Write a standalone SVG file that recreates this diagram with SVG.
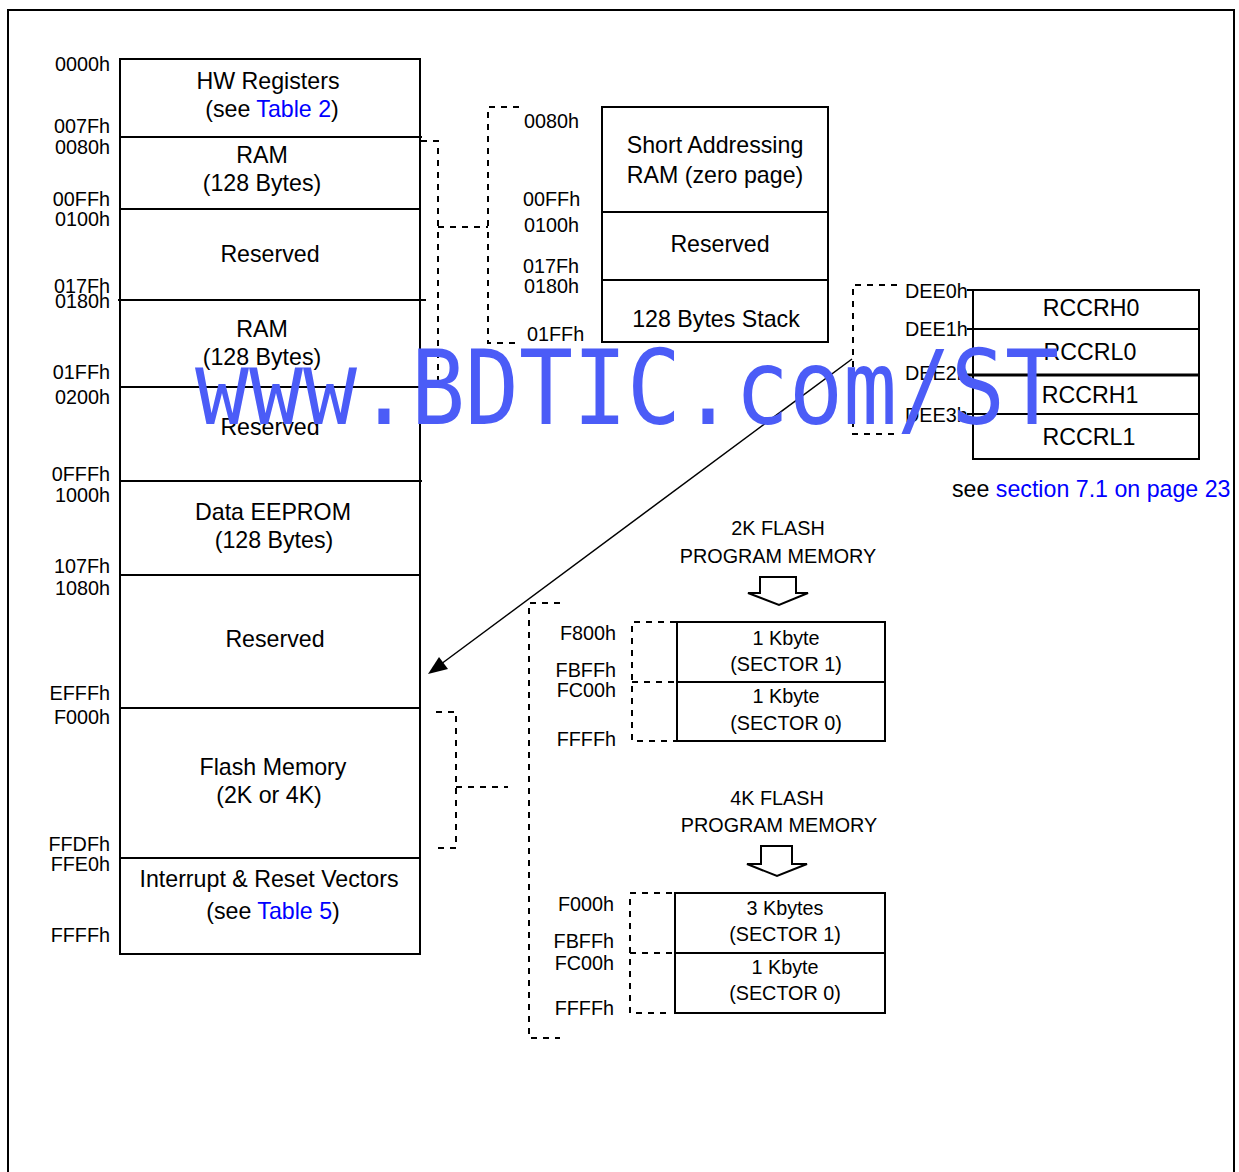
<svg xmlns="http://www.w3.org/2000/svg" width="1239" height="1172" viewBox="0 0 1239 1172">
<defs>
<style>
.t{font-family:"Liberation Sans",Arial,Helvetica,sans-serif;fill:#000}
.b{font-size:23.2px;text-anchor:middle}
.a{font-size:19.8px}
.ar{font-size:19.8px;text-anchor:end}
.s{font-size:19.8px;text-anchor:middle}
.lnk{fill:#0000ff}
.box{fill:#fff;stroke:#000;stroke-width:2}
.ln{stroke:#000;stroke-width:2;fill:none}
.d{stroke:#000;stroke-width:2;fill:none;stroke-dasharray:6 6}
.wm{font-family:"DejaVu Sans Mono",monospace;font-size:103px;fill:#4b5cf7}
</style>
</defs>
<rect width="1239" height="1172" fill="#fff"/>
<path class="ln" d="M8,1172 V10 H1234 V1172"/>

<g id="main-memory">
<rect class="box" x="120" y="59" width="300" height="895"/>
<path class="ln" d="M120,137 H422 M120,209 H420 M118,300 H426 M120,387 H420 M120,481 H422 M120,575 H420 M120,708 H420 M120,858 H420"/>
<text class="t b" x="268" y="89">HW Registers</text>
<text class="t b" x="272" y="117">(see <tspan class="lnk">Table 2</tspan>)</text>
<text class="t b" x="262" y="163">RAM</text>
<text class="t b" x="262" y="191">(128 Bytes)</text>
<text class="t b" x="270" y="262">Reserved</text>
<text class="t b" x="262" y="337">RAM</text>
<text class="t b" x="262" y="365">(128 Bytes)</text>
<text class="t b" x="270" y="435">Reserved</text>
<text class="t b" x="273" y="520">Data EEPROM</text>
<text class="t b" x="274" y="548">(128 Bytes)</text>
<text class="t b" x="275" y="647">Reserved</text>
<text class="t b" x="273" y="775">Flash Memory</text>
<text class="t b" x="269" y="803">(2K or 4K)</text>
<text class="t b" x="269" y="887">Interrupt &amp; Reset Vectors</text>
<text class="t b" x="273" y="919">(see <tspan class="lnk">Table 5</tspan>)</text>
</g>

<g id="main-addresses">
<text class="t ar" x="110" y="71">0000h</text>
<text class="t ar" x="110" y="133">007Fh</text>
<text class="t ar" x="110" y="154">0080h</text>
<text class="t ar" x="110" y="206">00FFh</text>
<text class="t ar" x="110" y="226">0100h</text>
<text class="t ar" x="110" y="293">017Fh</text>
<text class="t ar" x="110" y="308">0180h</text>
<text class="t ar" x="110" y="379">01FFh</text>
<text class="t ar" x="110" y="404">0200h</text>
<text class="t ar" x="110" y="481">0FFFh</text>
<text class="t ar" x="110" y="502">1000h</text>
<text class="t ar" x="110" y="573">107Fh</text>
<text class="t ar" x="110" y="595">1080h</text>
<text class="t ar" x="110" y="700">EFFFh</text>
<text class="t ar" x="110" y="724">F000h</text>
<text class="t ar" x="110" y="851">FFDFh</text>
<text class="t ar" x="110" y="871">FFE0h</text>
<text class="t ar" x="110" y="942">FFFFh</text>
</g>

<g id="zero-page">
<rect class="box" x="602" y="107" width="226" height="235"/>
<path class="ln" d="M602,212 H828 M602,280 H828"/>
<text class="t b" x="715" y="153">Short Addressing</text>
<text class="t b" x="715" y="183">RAM (zero page)</text>
<text class="t b" x="720" y="252">Reserved</text>
<text class="t b" x="716" y="327">128 Bytes Stack</text>
<text class="t a" x="524" y="128">0080h</text>
<text class="t a" x="523" y="206">00FFh</text>
<text class="t a" x="524" y="232">0100h</text>
<text class="t a" x="523" y="273">017Fh</text>
<text class="t a" x="524" y="293">0180h</text>
<text class="t a" x="527" y="341">01FFh</text>
</g>

<g id="rccr">
<rect class="box" x="973" y="290" width="226" height="169"/>
<path class="ln" d="M967,290 H973 M967,329 H1199 M967,414 H1199"/>
<path class="ln" d="M967,375 H1199" style="stroke-width:3"/>
<text class="t b" x="1091" y="316">RCCRH0</text>
<text class="t b" x="1090" y="360">RCCRL0</text>
<text class="t b" x="1090" y="403">RCCRH1</text>
<text class="t b" x="1089" y="445">RCCRL1</text>
<text class="t a" x="905" y="298">DEE0h</text>
<text class="t a" x="905" y="336">DEE1h</text>
<text class="t a" x="905" y="380">DEE2h</text>
<text class="t a" x="905" y="422">DEE3h</text>
<text class="t" x="952" y="497" style="font-size:23.2px">see <tspan class="lnk">section 7.1 on page 23</tspan></text>
</g>

<g id="flash-2k">
<text class="t s" x="778" y="535">2K FLASH</text>
<text class="t s" x="778" y="563">PROGRAM MEMORY</text>
<polygon class="box" points="760,577 796,577 796,593 808,593 779,605 748,593 760,593"/>
<rect class="box" x="677" y="622" width="208" height="119"/>
<path class="ln" d="M677,682 H885"/>
<text class="t s" x="786" y="645">1 Kbyte</text>
<text class="t s" x="786" y="671">(SECTOR 1)</text>
<text class="t s" x="786" y="703">1 Kbyte</text>
<text class="t s" x="786" y="730">(SECTOR 0)</text>
<text class="t ar" x="616" y="640">F800h</text>
<text class="t ar" x="616" y="677">FBFFh</text>
<text class="t ar" x="616" y="697">FC00h</text>
<text class="t ar" x="616" y="746">FFFFh</text>
</g>

<g id="flash-4k">
<text class="t s" x="777" y="805">4K FLASH</text>
<text class="t s" x="779" y="832">PROGRAM MEMORY</text>
<polygon class="box" points="761,846 792,846 792,864 807,864 777,876 747,864 761,864"/>
<rect class="box" x="675" y="893" width="210" height="120"/>
<path class="ln" d="M675,953 H885"/>
<text class="t s" x="785" y="915">3 Kbytes</text>
<text class="t s" x="785" y="941">(SECTOR 1)</text>
<text class="t s" x="785" y="974">1 Kbyte</text>
<text class="t s" x="785" y="1000">(SECTOR 0)</text>
<text class="t ar" x="614" y="911">F000h</text>
<text class="t ar" x="614" y="948">FBFFh</text>
<text class="t ar" x="614" y="970">FC00h</text>
<text class="t ar" x="614" y="1015">FFFFh</text>
</g>

<g id="connectors">
<path class="d" d="M421,141 H438 V385 H421"/>
<path class="d" d="M438,227 H488"/>
<path class="d" d="M519,107 H488 V343 H519"/>
<path class="d" d="M897,285 H853 V434 H897"/>
<path class="d" d="M436,712 H456 V848 H436"/>
<path class="d" d="M456,787 H508"/>
<path class="d" d="M560,603 H529 V1038 H560"/>
<path class="d" d="M676,622 H632 V741 H676 M632,682 H676"/>
<path class="d" d="M672,893 H630 V1013 H672 M630,953 H672"/>
<line x1="852" y1="359" x2="433" y2="670" stroke="#000" stroke-width="1.5"/>
<polygon points="428,674 439,657 448,669" fill="#000"/>
</g>

<text class="wm" x="195" y="424" textLength="864" lengthAdjust="spacingAndGlyphs">www.BDTIC.com/ST</text>
</svg>
